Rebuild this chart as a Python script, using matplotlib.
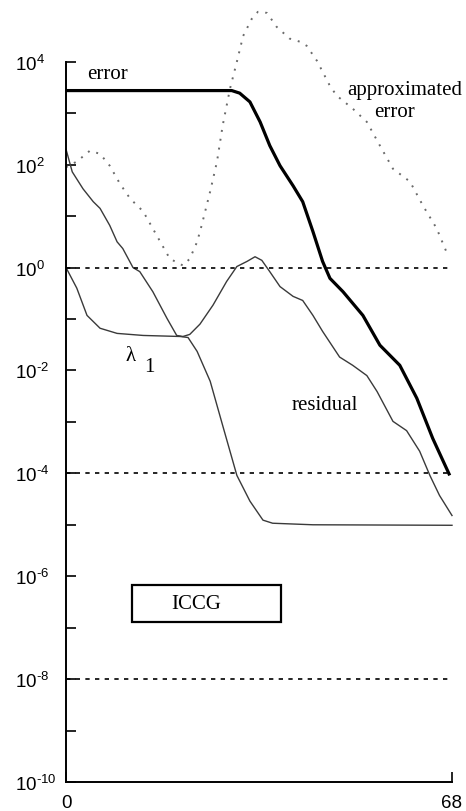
import numpy as np
import matplotlib
matplotlib.use("Agg")
import matplotlib.pyplot as plt
from matplotlib.patches import Rectangle

plt.rcParams['font.family'] = ['Liberation Sans', 'DejaVu Sans']
plt.rcParams['mathtext.fontset'] = 'custom'
plt.rcParams['mathtext.rm'] = 'Liberation Sans'
plt.rcParams['mathtext.it'] = 'Liberation Sans'
plt.rcParams['mathtext.default'] = 'regular'

# ---- data (iteration, log10 value) ----
err_k = [0, 10, 20, 29.2, 30.6, 32.4, 34.2, 35.9, 37.7, 40.0, 41.7, 43.5, 45.2,
         46.5, 48.8, 52.3, 55.3, 58.8, 61.8, 64.6, 67.6]
err_log = [3.44, 3.44, 3.44, 3.44, 3.39, 3.22, 2.83, 2.37, 1.98, 1.59, 1.28, 0.70, 0.12,
           -0.21, -0.47, -0.93, -1.51, -1.90, -2.54, -3.32, -4.04]

apx_k = [0, 1.9, 4.2, 6.0, 7.7, 9.5, 11.3, 13.6, 16.0, 18.3, 20.6, 21.8, 23.1, 23.9,
         25.4, 26.6, 27.6, 28.9, 30.1, 31.2, 32.7, 33.8, 35.4, 37.1, 39.4, 41.2, 42.4,
         44.2, 46.5, 47.7, 50.5, 53.0, 55.3, 57.6, 60.6, 62.9, 65.3, 67.3]
apx_log = [1.95, 2.06, 2.27, 2.21, 1.98, 1.63, 1.34, 1.09, 0.62, 0.17, 0.04, 0.17, 0.50, 0.82,
           1.48, 2.06, 2.76, 3.48, 4.00, 4.50, 4.83, 4.97, 4.95, 4.68, 4.45, 4.39, 4.31,
           4.02, 3.53, 3.34, 3.09, 2.83, 2.37, 1.92, 1.67, 1.20, 0.76, 0.23]

res_k = [0, 1.1, 3.0, 4.8, 6.0, 7.7, 9.0, 10.0, 11.8, 13.0, 15.3, 17.8, 19.5, 20.6, 21.8,
         23.6, 25.9, 28.3, 30.1, 31.9, 33.3, 34.5, 35.9, 37.7, 40.0, 41.7, 43.5, 45.2,
         48.2, 50.5, 53.0, 54.8, 57.6, 60.0, 62.3, 64.1, 65.8, 68.0]
res_log = [2.30, 1.86, 1.53, 1.28, 1.15, 0.82, 0.50, 0.37, 0.00, -0.08, -0.47, -0.99, -1.32,
           -1.34, -1.30, -1.10, -0.73, -0.27, 0.02, 0.12, 0.21, 0.14, -0.08, -0.37, -0.56,
           -0.64, -0.93, -1.24, -1.74, -1.90, -2.10, -2.41, -2.99, -3.17, -3.57, -4.04,
           -4.43, -4.82]

lam_k = [0, 1.9, 3.7, 6.0, 9.0, 13.6, 20.1, 21.5, 23.1, 25.4, 27.6, 30.1, 32.4, 34.7,
         36.4, 43.5, 68.0]
lam_log = [0.0, -0.40, -0.93, -1.18, -1.28, -1.32, -1.34, -1.36, -1.63, -2.21, -3.07,
           -4.04, -4.54, -4.91, -4.97, -5.00, -5.01]

ref_levels = [1e0, 1e-4, 1e-8]
ytick_major = [1e4, 1e2, 1e0, 1e-2, 1e-4, 1e-6, 1e-8, 1e-10]
ytick_labels = [r'$10^{4}$', r'$10^{2}$', r'$10^{0}$', r'$10^{\text{-}2}$', r'$10^{\text{-}4}$',
                r'$10^{\text{-}6}$', r'$10^{\text{-}8}$', r'$10^{\text{-}10}$']
ytick_minor = [1e3, 1e1, 1e-1, 1e-3, 1e-5, 1e-7, 1e-9]
xticks = [0, 68]
xtick_labels = ['0', '68']

fig = plt.figure(figsize=(4.66, 8.12), dpi=100)
ax = fig.add_axes([66/466, 29/812, 386/466, 783/812])
ax.set_yscale('log')
ax.set_xlim(0, 68)
ax.set_ylim(1e-10, 10**5.22)

p = lambda a: 10**np.array(a)
ax.plot(err_k, p(err_log), color='black', lw=2.3, clip_on=False, solid_capstyle='butt')
ax.plot(apx_k, p(apx_log), color='#6a6a6a', lw=1.4, linestyle=(0, (1, 3.6)), clip_on=False)
ax.plot(res_k, p(res_log), color='#3a3a3a', lw=1.0, clip_on=False)
ax.plot(lam_k, p(lam_log), color='#3a3a3a', lw=1.0, clip_on=False)
ax.hlines(ref_levels, 0, 67.3, colors='black', lw=1.2, linestyles=[(0, (2.6, 3.2))])

for s in ['top', 'right']:
    ax.spines[s].set_visible(False)
ax.spines['left'].set_bounds(1e-10, 1e4)
ax.spines['bottom'].set_bounds(0, 68)
ax.spines['left'].set_linewidth(1.4)
ax.spines['bottom'].set_linewidth(1.4)

ax.set_yticks(ytick_major, ytick_labels)
ax.set_yticks(ytick_minor, minor=True)
ax.yaxis.set_minor_formatter(matplotlib.ticker.NullFormatter())
ax.tick_params(axis='y', which='both', direction='in', length=7, width=1.2,
               labelsize=13.5, pad=36.5)
for t in ax.get_yticklabels():
    t.set_horizontalalignment('left')
ax.set_xticks(xticks, xtick_labels)
ax.tick_params(axis='x', direction='in', length=7, width=1.2, labelsize=13.5, pad=9)

serif = ['Liberation Serif', 'DejaVu Serif']
fs = 15
ax.text(3.7, 10**3.77, 'error', family=serif, fontsize=fs, ha='left', va='center')
ax.text(59.7, 10**3.47, 'approximated', family=serif, fontsize=fs, ha='center', va='center')
ax.text(57.9, 10**3.04, 'error', family=serif, fontsize=fs, ha='center', va='center')
ax.text(11.3, 10**-1.71, 'λ', family=serif, fontsize=fs, ha='center', va='center')
ax.text(14.6, 10**-1.92, '1', family=serif, fontsize=fs, ha='center', va='center')
ax.text(45.6, 10**-2.66, 'residual', family=serif, fontsize=fs, ha='center', va='center')
ax.add_patch(Rectangle((11.6, 10**-6.89), 26.3, 10**-6.17 - 10**-6.89,
                       fill=False, edgecolor='black', lw=1.6))
ax.text(22.9, 10**-6.54, 'ICCG', family=serif, fontsize=fs, ha='center', va='center')

fig.savefig('out.png', dpi=100)
